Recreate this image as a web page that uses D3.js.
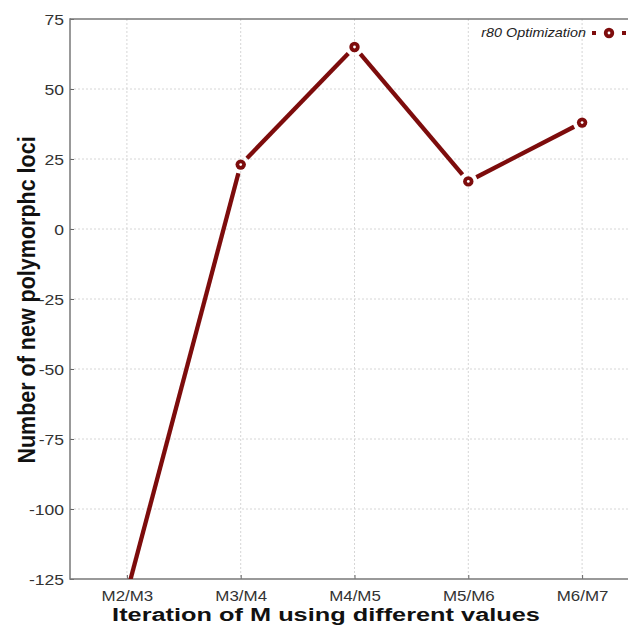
<!DOCTYPE html>
<html><head><meta charset="utf-8">
<script src="https://cdn.jsdelivr.net/npm/d3@7"></script>
<style>
html,body{margin:0;padding:0;background:#fff;overflow:hidden;}
svg{display:block;overflow:hidden;font-family:"Liberation Sans",Arial,Helvetica,sans-serif;}
</style></head>
<body>
<script>
const categories = ["M2/M3","M3/M4","M4/M5","M5/M6","M6/M7"];
const values = [-130, 23, 65, 17, 38];
const yTicks = [-125,-100,-75,-50,-25,0,25,50,75];
const seriesName = "r80 Optimization";
const xLabel = "Iteration of M using different values";
const yLabel = "Number of new polymorphc loci";

const W = 628, H = 625;
const m = {left:70, top:19, right:639, bottom:579};
const color = "#7d0c0c";

const svg = d3.select("body").append("svg").attr("width",W).attr("height",H);

const x = d3.scalePoint().domain(categories).range([m.left, m.right]).padding(0.5);
const y = d3.scaleLinear().domain([-125,75]).range([m.bottom, m.top]);

svg.append("defs").append("clipPath").attr("id","clip")
  .append("rect").attr("x",m.left).attr("y",m.top).attr("width",m.right-m.left).attr("height",m.bottom-m.top);

// grid
const grid = svg.append("g");
grid.selectAll("line.h").data(yTicks.slice(1,-1)).join("line")
  .attr("x1",m.left).attr("x2",W).attr("y1",d=>y(d)).attr("y2",d=>y(d))
  .attr("stroke","#d6d6d6").attr("stroke-width",1).attr("stroke-dasharray","2,2");
grid.selectAll("line.v").data(categories).join("line")
  .attr("x1",d=>x(d)).attr("x2",d=>x(d)).attr("y1",m.top).attr("y2",m.bottom)
  .attr("stroke","#d6d6d6").attr("stroke-width",1).attr("stroke-dasharray","2,2");

// axes
const yAxis = d3.axisLeft(y).tickValues(yTicks).tickSize(-4).tickSizeOuter(0).tickPadding(0).tickFormat(d=>String(d));
const gy = svg.append("g").attr("transform",`translate(${m.left},0)`).call(yAxis);
const xAxis = d3.axisBottom(x).tickSize(-4).tickSizeOuter(0).tickPadding(0);
const gx = svg.append("g").attr("transform",`translate(0,${m.bottom})`).call(xAxis);
[gx,gy].forEach(g=>{
  g.select(".domain").remove();
  g.selectAll(".tick line").attr("stroke","#666");
});
gy.selectAll(".tick text").attr("x",null).attr("dy",null)
  .attr("transform","translate(-6,5.5) scale(1.14,1)")
  .attr("fill","#333").style("font-size","15.4px");
gx.selectAll(".tick text").attr("y",null).attr("dy",null)
  .attr("transform","translate(0,21.5) scale(1.1,1)")
  .attr("fill","#333").style("font-size","15.4px");

// frame (left, top, bottom; right side lies beyond the picture)
const frame = svg.append("g").attr("stroke","#777").attr("stroke-width",1.5);
frame.append("line").attr("x1",m.left).attr("x2",W).attr("y1",m.top).attr("y2",m.top);
frame.append("line").attr("x1",m.left).attr("x2",W).attr("y1",m.bottom).attr("y2",m.bottom);
frame.append("line").attr("x1",m.left).attr("x2",m.left).attr("y1",m.top-0.75).attr("y2",m.bottom+0.75);

// line segments with gaps around markers
const pts = categories.map((c,i)=>[x(c), y(values[i])]);
const gap = 9;
const segs = [];
for(let i=0;i<pts.length-1;i++){
  const [x0,y0]=pts[i],[x1,y1]=pts[i+1];
  const L=Math.hypot(x1-x0,y1-y0), ux=(x1-x0)/L, uy=(y1-y0)/L;
  segs.push([x0+ux*gap,y0+uy*gap,x1-ux*gap,y1-uy*gap]);
}
const plot = svg.append("g").attr("clip-path","url(#clip)");
plot.selectAll("line.seg").data(segs).join("line")
  .attr("x1",d=>d[0]).attr("y1",d=>d[1]).attr("x2",d=>d[2]).attr("y2",d=>d[3])
  .attr("stroke",color).attr("stroke-width",4.3).attr("stroke-linecap","butt");
plot.selectAll("circle.mk").data(pts).join("circle")
  .attr("cx",d=>d[0]).attr("cy",d=>d[1]).attr("r",5.2).attr("fill",color);
plot.selectAll("circle.dot").data(pts).join("circle")
  .attr("cx",d=>d[0]).attr("cy",d=>d[1]).attr("r",1.4).attr("fill","#fff");

// legend
const lg = svg.append("g");
lg.append("text").attr("transform","translate(586,37) scale(1.15,1)").attr("text-anchor","end")
  .style("font-size","12.5px").style("font-style","italic").attr("fill","#222").text(seriesName);
lg.append("line").attr("x1",592).attr("x2",628).attr("y1",33).attr("y2",33)
  .attr("stroke",color).attr("stroke-width",4).attr("stroke-dasharray","4,11");
lg.append("circle").attr("cx",609).attr("cy",33).attr("r",5.2).attr("fill",color);
lg.append("circle").attr("cx",609).attr("cy",33).attr("r",1.4).attr("fill","#fff");

// axis titles
svg.append("text").attr("transform","translate(326,620.5) scale(1.37,1)").attr("text-anchor","middle")
  .style("font-size","18.5px").style("font-weight","bold").attr("fill","#111").text(xLabel);
svg.append("text").attr("transform","translate(35,300) scale(1.1,1) rotate(-90)")
  .attr("text-anchor","middle").style("font-size","21.5px").style("font-weight","bold").attr("fill","#111").text(yLabel);
</script>
</body></html>
